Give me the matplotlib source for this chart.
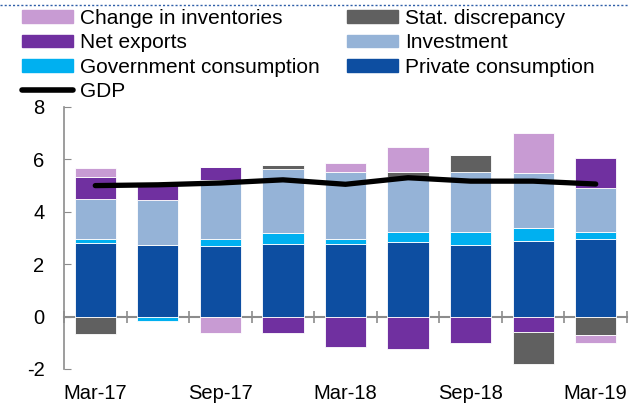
import matplotlib
matplotlib.use("Agg")
import matplotlib.pyplot as plt
import numpy as np
from matplotlib.lines import Line2D
from matplotlib.patches import Patch

plt.rcParams['font.family'] = ['Liberation Sans', 'DejaVu Sans']
plt.rcParams['axes.unicode_minus'] = False

quarters = ['Mar-17', 'Jun-17', 'Sep-17', 'Dec-17', 'Mar-18',
            'Jun-18', 'Sep-18', 'Dec-18', 'Mar-19']
private = [2.81, 2.75, 2.69, 2.79, 2.79, 2.86, 2.75, 2.88, 2.95]
government = [0.16, -0.15, 0.28, 0.41, 0.18, 0.38, 0.49, 0.52, 0.29]
investment = [1.53, 1.69, 2.24, 2.45, 2.54, 2.09, 2.27, 2.08, 1.66]
net_exports = [0.83, 0.71, 0.49, -0.61, -1.17, -1.22, -0.99, -0.59, 1.16]
stat_disc = [-0.66, 0.0, 0.0, 0.15, 0.0, 0.18, 0.65, -1.21, -0.71]
inventories = [0.34, 0.0, -0.64, 0.0, 0.36, 0.98, 0.0, 1.52, -0.31]
gdp = [5.0, 5.03, 5.1, 5.22, 5.05, 5.3, 5.17, 5.17, 5.06]

series = [
    ('Private consumption', private, '#0D4EA1'),
    ('Government consumption', government, '#00B0F0'),
    ('Investment', investment, '#95B3D7'),
    ('Net exports', net_exports, '#7030A0'),
    ('Stat. discrepancy', stat_disc, '#606060'),
    ('Change in inventories', inventories, '#C89BD3'),
]
colors = {name: c for name, _, c in series}

fig = plt.figure(figsize=(6.29, 4.07), dpi=100)
ax = fig.add_axes([64 / 629, 1 - 369 / 407, 563 / 629, 262 / 407])

x = np.arange(len(quarters))
width = 0.66
pos_bottom = np.zeros(len(x))
neg_bottom = np.zeros(len(x))
for name, vals, col in series:
    v = np.array(vals)
    bottom = np.where(v >= 0, pos_bottom, neg_bottom)
    ax.bar(x, v, width, bottom=bottom, color=col, edgecolor='white',
           linewidth=0.6, zorder=2)
    pos_bottom += np.where(v > 0, v, 0)
    neg_bottom += np.where(v < 0, v, 0)

ax.plot(x, gdp, color='black', lw=3.8, solid_capstyle='round',
        solid_joinstyle='round', zorder=4)

ax.set_xlim(-0.5, 8.5)
ax.set_ylim(-2, 8)
ax.set_yticks([-2, 0, 2, 4, 6, 8])
ax.tick_params(axis='y', direction='in', length=5, color='#8C8C8C',
               labelsize=14.5, pad=14)
ax.set_xticks(x[::2])
ax.set_xticklabels(quarters[::2])
ax.tick_params(axis='x', length=0, labelsize=14.5, pad=11)

for s in ['top', 'right', 'bottom']:
    ax.spines[s].set_visible(False)
ax.spines['left'].set_color('#8C8C8C')
ax.spines['left'].set_linewidth(1.2)

# zero line with category boundary ticks
sec = ax.secondary_xaxis(0.2)
sec.set_xticks(np.arange(-0.5, 9, 1))
sec.set_xticklabels([])
sec.tick_params(direction='inout', length=9, color='#8C8C8C', width=1.2)
sec.spines['bottom'].set_color('#8C8C8C')
sec.spines['bottom'].set_linewidth(1.5)

handles = [
    Patch(color=colors['Change in inventories']),
    Patch(color=colors['Net exports']),
    Patch(color=colors['Government consumption']),
    Line2D([], [], color='black', lw=4, solid_capstyle='round'),
    Patch(color=colors['Stat. discrepancy']),
    Patch(color=colors['Investment']),
    Patch(color=colors['Private consumption']),
]
labels = ['Change in inventories', 'Net exports', 'Government consumption',
          'GDP', 'Stat. discrepancy', 'Investment', 'Private consumption']
fig.legend(handles, labels, loc='upper left', ncol=2,
           bbox_to_anchor=(22 / 629, 1 - 9 / 407), frameon=False,
           fontsize=15, handlelength=2.45, handleheight=0.53,
           handletextpad=0.34, columnspacing=1.3, labelspacing=0.26,
           borderpad=0, borderaxespad=0)

fig.add_artist(Line2D([0, 1], [1 - 5 / 407, 1 - 5 / 407], color='#2E5EA8',
                      lw=1, ls=(0, (1.5, 1.5)), transform=fig.transFigure))

fig.savefig('out.png', dpi=100)
